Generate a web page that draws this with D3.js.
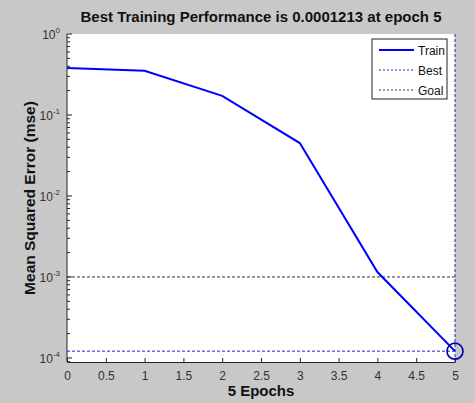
<!DOCTYPE html>
<html>
<head>
<meta charset="utf-8">
<script src="https://cdn.jsdelivr.net/npm/d3@7/dist/d3.min.js"></script>
<style>
  html, body { margin: 0; padding: 0; background: #c8c8c8; }
  svg { display: block; font-family: "Liberation Sans", Arial, sans-serif; }
</style>
</head>
<body>
<svg id="chart" width="475" height="403"></svg>
<script>
// Training record: mean squared error per epoch
const epochs = [0, 1, 2, 3, 4, 5];
const trainMse = [0.38, 0.352, 0.172, 0.045, 0.00115, 0.0001213];
const bestEpoch = 5;
const bestMse = 0.0001213;
const goalMse = 0.001;
const xTicks = [0, 0.5, 1, 1.5, 2, 2.5, 3, 3.5, 4, 4.5, 5];
const yExponents = [0, -1, -2, -3, -4];
const legendLabels = ["Train", "Best", "Goal"];

const svg = d3.select("#chart");
const m = { left: 67, right: 20, top: 34, bottom: 41 };
const W = 475, H = 403;

const x = d3.scaleLinear().domain([0, 5]).range([m.left, W - m.right]);
const y = d3.scaleLog().domain([Math.pow(10, -4.05), 1]).range([H - m.bottom, m.top]);

// plot background
svg.append("rect")
  .attr("x", x(0)).attr("y", m.top)
  .attr("width", x(5) - x(0)).attr("height", (H - m.bottom) - m.top)
  .attr("fill", "#fff");

// title
svg.append("text")
  .attr("x", (x(0) + x(5)) / 2).attr("y", 22)
  .attr("text-anchor", "middle")
  .attr("font-size", 15).attr("font-weight", "bold").attr("fill", "#111")
  .text("Best Training Performance is 0.0001213 at epoch 5");

// x axis (ticks pointing into the plot)
const xAxis = d3.axisBottom(x).tickValues(xTicks).tickSizeInner(-4).tickSizeOuter(0)
  .tickPadding(9).tickFormat(d3.format("~g"));
const gx = svg.append("g").attr("transform", `translate(0,${H - m.bottom})`).call(xAxis);
gx.select(".domain").attr("stroke", "#222");
gx.selectAll(".tick line").attr("stroke", "#222");
gx.selectAll(".tick text").attr("font-size", 12).attr("fill", "#333")
  .attr("font-family", "\"Liberation Sans\", Arial, sans-serif");

// y axis: major and minor log ticks pointing into the plot
const minor = [];
for (let e = -5; e < 0; e++) for (let k = 2; k <= 9; k++) {
  const v = k * Math.pow(10, e);
  if (v >= y.domain()[0] && v <= 1) minor.push(v);
}
const gy = svg.append("g").attr("transform", `translate(${m.left},0)`);
gy.append("line").attr("x1", 0).attr("x2", 0).attr("y1", m.top).attr("y2", H - m.bottom).attr("stroke", "#222");
gy.selectAll("line.minor").data(minor).join("line").attr("class", "minor")
  .attr("x1", 0).attr("x2", 3).attr("y1", d => y(d)).attr("y2", d => y(d)).attr("stroke", "#222");
gy.selectAll("line.major").data(yExponents).join("line").attr("class", "major")
  .attr("x1", 0).attr("x2", 5).attr("y1", d => y(Math.pow(10, d))).attr("y2", d => y(Math.pow(10, d))).attr("stroke", "#222");
const yl = gy.selectAll("text.ylab").data(yExponents).join("text").attr("class", "ylab")
  .attr("x", -7).attr("y", d => y(Math.pow(10, d)) + 5)
  .attr("text-anchor", "end").attr("font-size", 12).attr("fill", "#333");
yl.append("tspan").text("10");
yl.append("tspan").attr("dy", -6).attr("font-size", 8).text(d => String(d));

// axis labels
svg.append("text")
  .attr("transform", `translate(35,${(m.top + H - m.bottom) / 2}) rotate(-90)`)
  .attr("text-anchor", "middle").attr("font-size", 15.5).attr("font-weight", "bold").attr("fill", "#111")
  .text("Mean Squared Error  (mse)");
svg.append("text")
  .attr("x", (x(0) + x(5)) / 2).attr("y", 396)
  .attr("text-anchor", "middle").attr("font-size", 15).attr("font-weight", "bold").attr("fill", "#111")
  .text("5 Epochs");

// goal line
svg.append("line")
  .attr("x1", x(0)).attr("x2", x(5)).attr("y1", y(goalMse)).attr("y2", y(goalMse))
  .attr("stroke", "#333").attr("stroke-dasharray", "3,2").attr("stroke-width", 1);

// best lines
svg.append("line")
  .attr("x1", x(0)).attr("x2", x(5)).attr("y1", y(bestMse)).attr("y2", y(bestMse))
  .attr("stroke", "#2222cc").attr("stroke-dasharray", "3,2");
svg.append("line")
  .attr("x1", x(bestEpoch)).attr("x2", x(bestEpoch)).attr("y1", m.top).attr("y2", H - m.bottom)
  .attr("stroke", "#2222cc").attr("stroke-dasharray", "3,2");

// training curve
const line = d3.line().x((d, i) => x(epochs[i])).y(d => y(d));
svg.append("path").datum(trainMse).attr("d", line)
  .attr("fill", "none").attr("stroke", "#0000ff").attr("stroke-width", 2);

// best point marker
svg.append("circle")
  .attr("cx", x(bestEpoch)).attr("cy", y(bestMse)).attr("r", 8)
  .attr("fill", "none").attr("stroke", "#0000a8").attr("stroke-width", 1.6);

// legend
const lg = svg.append("g").attr("transform", "translate(372,39)");
lg.append("rect").attr("width", 75).attr("height", 60)
  .attr("fill", "#fff").attr("stroke", "#222");
const styles = [
  { stroke: "#0000ff", dash: null, w: 2 },
  { stroke: "#2222cc", dash: "2,2", w: 1 },
  { stroke: "#333", dash: "2,2", w: 1 }
];
legendLabels.forEach((lab, i) => {
  const ry = 11 + i * 20;
  lg.append("line").attr("x1", 7).attr("x2", 42).attr("y1", ry).attr("y2", ry)
    .attr("stroke", styles[i].stroke).attr("stroke-width", styles[i].w)
    .attr("stroke-dasharray", styles[i].dash);
  lg.append("text").attr("x", 46).attr("y", ry + 4.5).attr("font-size", 12).attr("fill", "#111").text(lab);
});
</script>
</body>
</html>
